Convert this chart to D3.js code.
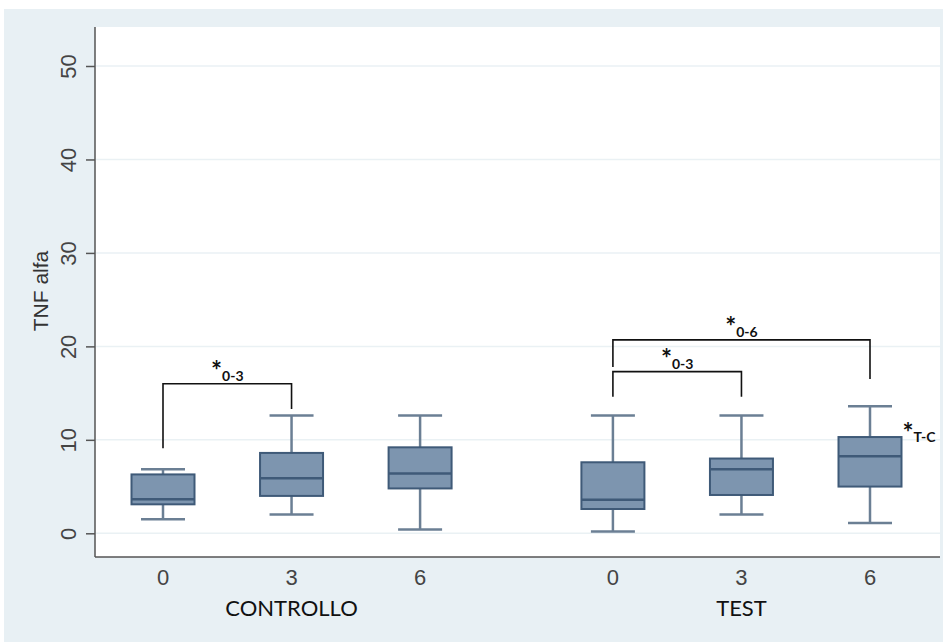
<!DOCTYPE html>
<html><head><meta charset="utf-8">
<script src="https://cdn.jsdelivr.net/npm/d3@7"></script>
<style>body{margin:0;background:#fff}svg{display:block}</style>
</head><body>
<script>
// ---- data ----
const groups = ["CONTROLLO", "TEST"];
const timepoints = ["0", "3", "6"];
const positions = [0, 1, 2, 3.5, 4.5, 5.5];
const whiskerLow  = [1.5, 2.0, 0.4, 0.2, 2.0, 1.1];
const q1          = [3.1, 4.0, 4.8, 2.6, 4.1, 5.0];
const median      = [3.65, 5.9, 6.4, 3.6, 6.85, 8.25];
const q3          = [6.3, 8.6, 9.2, 7.6, 8.0, 10.3];
const whiskerHigh = [6.85, 12.6, 12.6, 12.6, 12.6, 13.6];
const yTicks = [0, 10, 20, 30, 40, 50];
// brackets
const bracketFrom  = [0, 3, 3];
const bracketTo    = [1, 4, 5];
const bracketLevel = [16.0, 17.3, 20.7];
const bracketLeft  = [9.1, 14.6, 17.8];
const bracketRight = [13.3, 14.6, 16.5];
const bracketLabel = ["0-3", "0-3", "0-6"];
const tcIndex = 5, tcLevel = 9.8, tcLabel = "T-C";

const W = 943, H = 642;
const svg = d3.select("body").append("svg").attr("width", W).attr("height", H);
svg.append("rect").attr("x", 4).attr("y", 9).attr("width", W - 4).attr("height", H - 9).attr("fill", "#e8f0f4");
const plot = {l: 95, t: 27, r: 940, b: 557};
svg.append("rect").attr("x", plot.l).attr("y", plot.t).attr("width", plot.r - plot.l).attr("height", plot.b - plot.t).attr("fill", "#fff");

const y = d3.scaleLinear().domain([0, 50]).range([533.3, 66]);
const x = d3.scaleLinear().domain([0, 5.5]).range([163, 870]);

const numFont = "'Liberation Sans', Arial, sans-serif";
const lblFont = "Lato, 'Open Sans', sans-serif";

// gridlines
svg.append("g").selectAll("line").data(yTicks).join("line")
  .attr("x1", plot.l + 1).attr("x2", plot.r).attr("y1", d => y(d)).attr("y2", d => y(d))
  .attr("stroke", "#eaf1f4").attr("stroke-width", 1.5);

// y axis
const yAxis = svg.append("g").attr("transform", `translate(${plot.l},0)`)
  .call(d3.axisLeft(y).tickValues(yTicks).tickSize(9).tickPadding(5));
yAxis.select(".domain").attr("d", `M0,${plot.t}V${plot.b}`).attr("stroke", "#555").attr("stroke-width", 1.5);
yAxis.selectAll(".tick line").attr("stroke", "#555").attr("stroke-width", 1.5);
yAxis.selectAll(".tick text")
  .attr("transform", "rotate(-90)").attr("x", 0).attr("y", -19).attr("dy", "0")
  .attr("text-anchor", "middle")
  .attr("font-family", numFont).attr("font-size", 22).attr("fill", "#444");

// x axis line
svg.append("line").attr("x1", plot.l).attr("x2", plot.r).attr("y1", plot.b).attr("y2", plot.b)
  .attr("stroke", "#555").attr("stroke-width", 1.5);

// y title
svg.append("text").attr("transform", `translate(48,291) rotate(-90)`).attr("text-anchor", "middle")
  .attr("font-family", numFont).attr("font-size", 21).attr("fill", "#333").text("TNF alfa");

// x tick labels
svg.append("g").selectAll("text").data(positions).join("text")
  .attr("x", d => x(d)).attr("y", 585).attr("text-anchor", "middle")
  .attr("font-family", numFont).attr("font-size", 22).attr("fill", "#444")
  .text((d, i) => timepoints[i % 3]);

// group labels
svg.append("g").selectAll("text").data(groups).join("text")
  .attr("x", (d, i) => x(positions[i * 3 + 1])).attr("y", 616).attr("text-anchor", "middle")
  .attr("font-family", lblFont).attr("font-size", 22).attr("fill", "#111")
  .text(d => d);

// boxes
const boxW = 63, capW = 44;
const whiskerColor = "#6b7f94";
const bx = svg.append("g").selectAll("g").data(positions).join("g");
bx.append("line").attr("x1", d => x(d)).attr("x2", d => x(d))
  .attr("y1", (d, i) => y(whiskerHigh[i])).attr("y2", (d, i) => y(q3[i]))
  .attr("stroke", whiskerColor).attr("stroke-width", 2.5);
bx.append("line").attr("x1", d => x(d)).attr("x2", d => x(d))
  .attr("y1", (d, i) => y(whiskerLow[i])).attr("y2", (d, i) => y(q1[i]))
  .attr("stroke", whiskerColor).attr("stroke-width", 2.5);
bx.append("line").attr("x1", d => x(d) - capW / 2).attr("x2", d => x(d) + capW / 2)
  .attr("y1", (d, i) => y(whiskerHigh[i])).attr("y2", (d, i) => y(whiskerHigh[i]))
  .attr("stroke", whiskerColor).attr("stroke-width", 2.5);
bx.append("line").attr("x1", d => x(d) - capW / 2).attr("x2", d => x(d) + capW / 2)
  .attr("y1", (d, i) => y(whiskerLow[i])).attr("y2", (d, i) => y(whiskerLow[i]))
  .attr("stroke", whiskerColor).attr("stroke-width", 2.5);
bx.append("rect").attr("x", d => x(d) - boxW / 2).attr("width", boxW)
  .attr("y", (d, i) => y(q3[i])).attr("height", (d, i) => y(q1[i]) - y(q3[i]))
  .attr("fill", "#7d95af").attr("stroke", "#3f5a78").attr("stroke-width", 2);
bx.append("line").attr("x1", d => x(d) - boxW / 2).attr("x2", d => x(d) + boxW / 2)
  .attr("y1", (d, i) => y(median[i])).attr("y2", (d, i) => y(median[i]))
  .attr("stroke", "#3f5a78").attr("stroke-width", 2.5);

// brackets
const br = svg.append("g").selectAll("g").data(bracketLevel).join("g");
br.append("path")
  .attr("d", (d, i) => {
    const x1 = x(positions[bracketFrom[i]]), x2 = x(positions[bracketTo[i]]);
    return `M${x1},${y(bracketLeft[i])}V${y(d)}H${x2}V${y(bracketRight[i])}`;
  })
  .attr("fill", "none").attr("stroke", "#111").attr("stroke-width", 1.6);
const lbl = br.append("text")
  .attr("x", (d, i) => (x(positions[bracketFrom[i]]) + x(positions[bracketTo[i]])) / 2)
  .attr("y", d => y(d) - 4).attr("text-anchor", "middle")
  .attr("font-family", lblFont).attr("font-weight", "bold").attr("fill", "#111");
lbl.append("tspan").attr("font-size", 26).text("*");
lbl.append("tspan").attr("font-size", 14).attr("dy", 1).text((d, i) => bracketLabel[i]);

// T-C annotation
const tc = svg.append("text").attr("x", x(positions[tcIndex]) + boxW / 2 + 1).attr("y", y(tcLevel))
  .attr("font-family", lblFont).attr("font-weight", "bold").attr("fill", "#111");
tc.append("tspan").attr("font-size", 26).text("*");
tc.append("tspan").attr("font-size", 14).attr("dy", 0).text(tcLabel);
</script>
</body></html>
